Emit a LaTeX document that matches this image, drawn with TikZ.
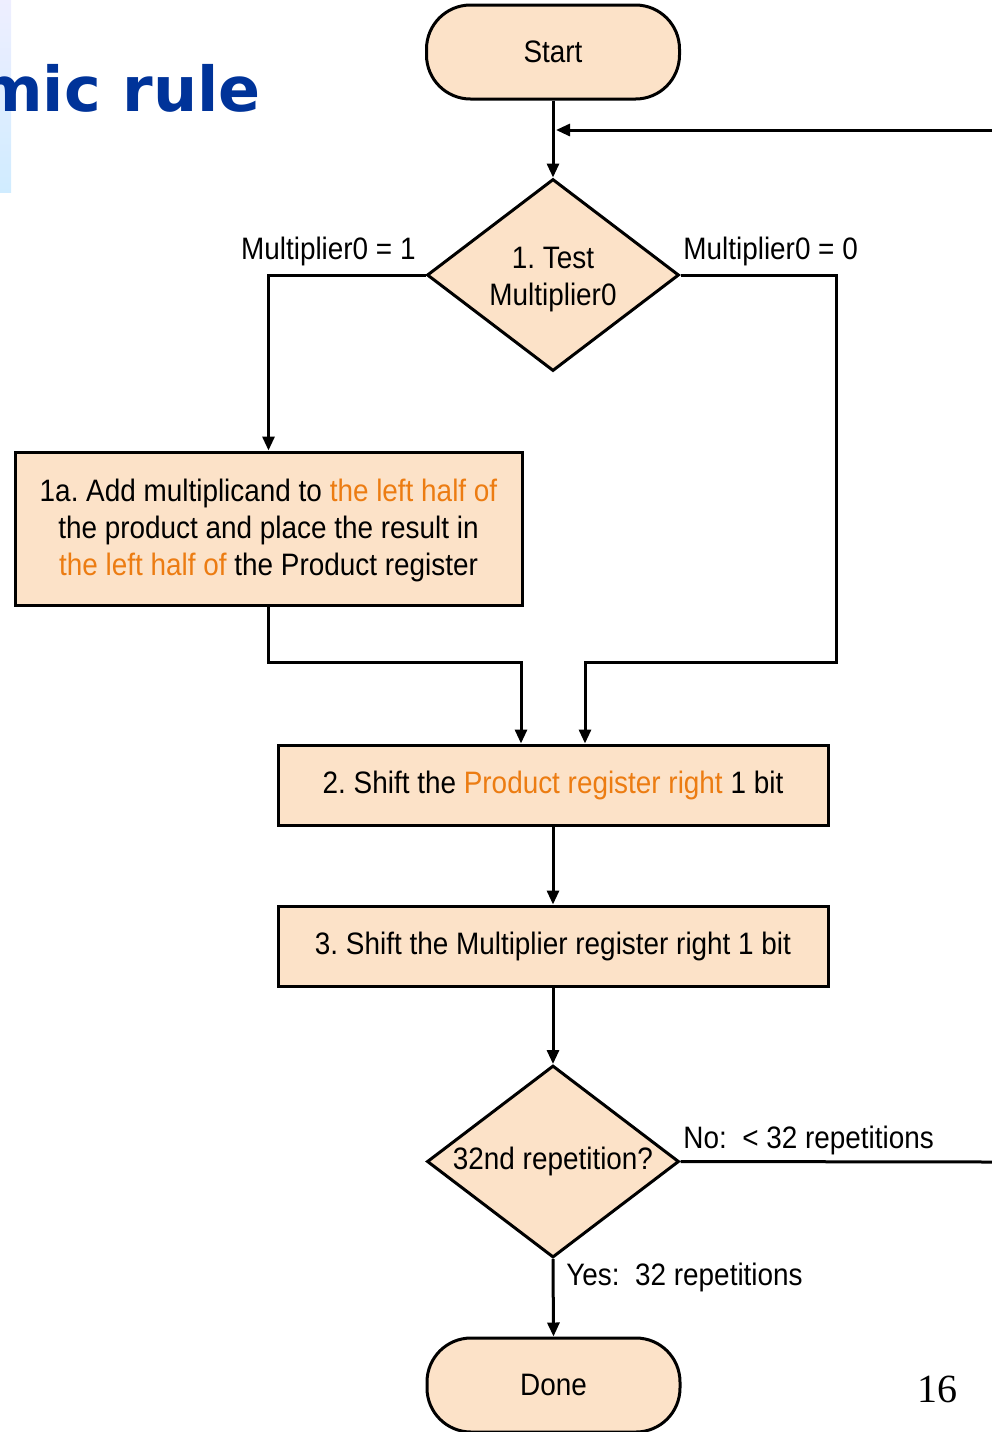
\documentclass[tikz,border=0pt]{standalone}
\usepackage{fontspec}
\setmainfont{Liberation Sans}[FakeStretch=0.9]
\newfontfamily\titlefont{DejaVu Sans}
\newfontfamily\pagefont{Liberation Serif}
\usetikzlibrary{shapes.geometric,arrows.meta}
\definecolor{boxfill}{RGB}{252,226,200}
\definecolor{hl}{RGB}{236,124,18}
\definecolor{titleblue}{RGB}{0,51,153}
\definecolor{bartop}{RGB}{238,238,255}
\definecolor{barbot}{RGB}{208,236,255}
\tikzset{
  flow/.style={line width=1.5pt},
  arr/.style={flow,-{Triangle[length=7pt,width=6pt]}},
  txt/.style={font=\frenchspacing\fontsize{15.5}{18.5}\selectfont},
  terminal/.style={txt,draw,line width=1.5pt,fill=boxfill,rounded corners=22pt,
    minimum width=126.5pt,minimum height=47pt},
  process/.style={txt,draw,line width=1.5pt,fill=boxfill,align=center,inner sep=0pt},
  decision/.style={txt,diamond,shape aspect=1.31,draw,line width=1.5pt,fill=boxfill,
    align=center,inner sep=0pt,minimum width=126pt,minimum height=96pt},
  lbl/.style={txt,inner sep=0pt},
}
\begin{document}
\begin{tikzpicture}[x=0.5pt,y=-0.5pt]
\useasboundingbox (0,0) rectangle (992,1432);
\clip (0,0) rectangle (992,1432);

% slide heading fragment and side bar
\shade[top color=bartop,bottom color=barbot] (0,0) rectangle (11,192);
\node[anchor=base east,inner sep=0pt,text=titleblue,
  font=\titlefont\bfseries\fontsize{31}{36}\selectfont] (title) at (261,111) {mic rule};

% flowchart nodes
\node[terminal] (start) at (553,52) {Start};
\node[decision] (test) at (553,275)
  {\parbox{64pt}{\centering\vspace*{5pt}1. Test\\Multiplier0}};
\node[process,minimum width=253.5pt,minimum height=76.5pt] (add) at (268.5,528.5)
  {\parbox{250pt}{\centering\vspace*{2pt}
   1a. Add multiplicand to \textcolor{hl}{the left half of}\\
   the product and place the result in\\
   \textcolor{hl}{the left half of} the Product register}};
\node[process,minimum width=275pt,minimum height=40pt] (shiftp) at (553,785)
  {2. Shift the \textcolor{hl}{Product register right} 1 bit};
\node[process,minimum width=275pt,minimum height=40pt] (shiftm) at (553,946)
  {3. Shift the Multiplier register right 1 bit};
\node[decision] (rep) at (553,1161.5) {32nd repetition?};
\node[terminal] (done) at (553.5,1385) {Done};

% branch labels
\node[lbl,anchor=east] (l1) at (416,251) {Multiplier0 = 1};
\node[lbl,anchor=west] (l0) at (683,251) {Multiplier0 = 0};
\node[lbl,anchor=west] (lno) at (683,1140) {No:\ \ < 32 repetitions};
\node[lbl,anchor=west] (lyes) at (566,1277) {Yes:\ \ 32 repetitions};

% page number
\node[font=\pagefont\fontsize{20}{24}\selectfont,inner sep=0pt] (pg) at (937,1389) {16};

% connectors
\coordinate (loopin) at (992,130);
\coordinate (loopout) at (992,1162);
\coordinate (lbend) at (268.5,662);
\coordinate (rbend) at (836,662);

\draw[arr] (start) -- (test);
\draw[arr] (loopin) -- ([xshift=1.5pt]start.south |- loopin);
\draw[arr] (test.west) -| (add.north);
\draw[arr] (test.east) -| (rbend) -| ([xshift=16pt]shiftp.north);
\draw[arr] (add.south) -- (lbend) -| ([xshift=-16pt]shiftp.north);
\draw[arr] (shiftp) -- (shiftm);
\draw[arr] (shiftm) -- (rep);
\draw[flow] (rep.east) -- (loopout);
\draw[arr] (rep.south) -- (done.north);
\end{tikzpicture}
\end{document}
